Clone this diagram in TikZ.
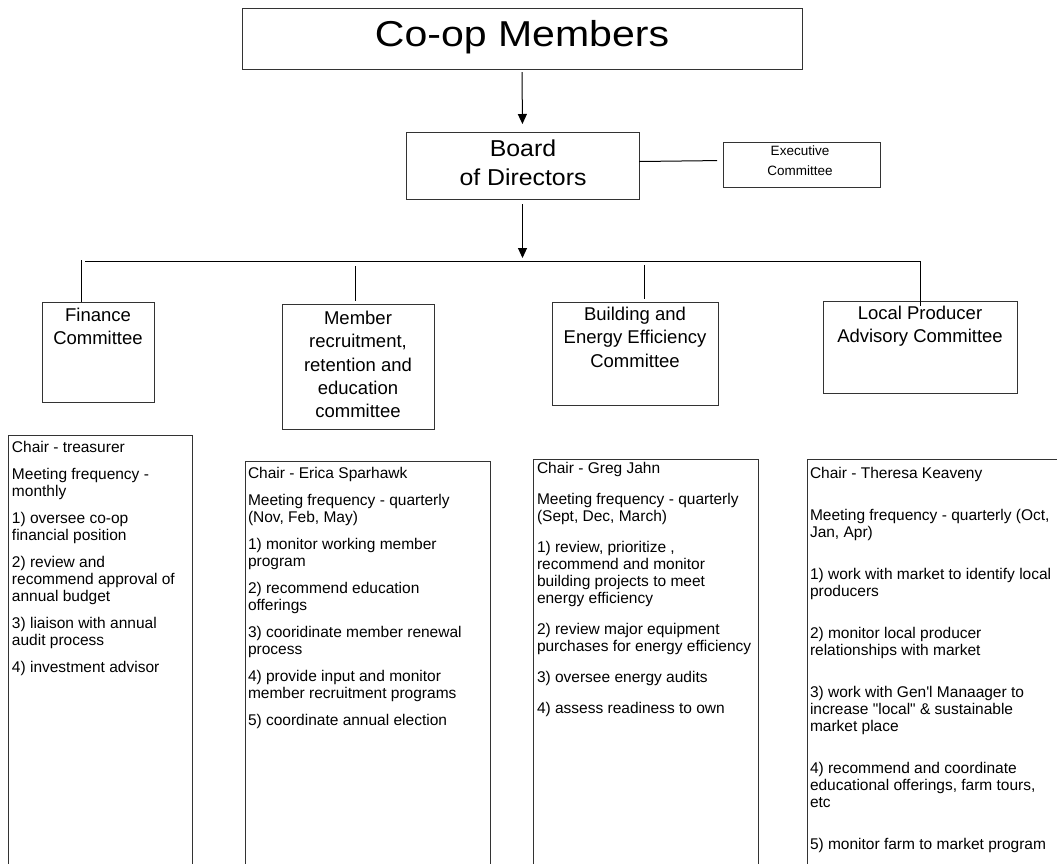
\documentclass[tikz,border=0pt]{standalone}
\usepackage{fontspec}
\setmainfont{Liberation Sans}[Ligatures=TeXOff]
\usetikzlibrary{arrows.meta}
\tikzset{
  box/.style={draw=black!80, line width=1pt, inner sep=0pt, outer sep=0pt, anchor=north west},
  conn/.style={line width=1pt, draw=black},
  arr/.style={conn, -{Triangle[width=9pt,length=10pt]}},
  txt/.style={inner sep=0pt, outer sep=0pt},
  desc/.style={txt, anchor=north west, align=left, font=\fontsize{15.5}{17}\selectfont},
  ctitle/.style={txt, anchor=north, align=center, font=\fontsize{18.5}{23.3}\selectfont},
}
\begin{document}
\begin{tikzpicture}[x=1pt,y=-1pt]
\useasboundingbox (0,0) rectangle (1057,863);
\clip (0,0) rectangle (1057,863);
\fill[white] (0,0) rectangle (1057,863);

% top boxes
\node[box, minimum width=560pt, minimum height=61pt] (coop) at (242,8) {};
\node[txt, anchor=north, font=\fontsize{36}{40}\selectfont] (coopT) at (522,20) {\scalebox{1.14}[1]{Co-op Members}};

\node[box, minimum width=233pt, minimum height=67pt] (board) at (406,132) {};
\node[txt, anchor=north, align=center, font=\fontsize{23}{29}\selectfont] (boardT) at (523,140) {\scalebox{1.08}[1]{Board}\\\scalebox{1.08}[1]{of Directors}};

\node[box, minimum width=157pt, minimum height=45pt] (exec) at (723,142) {};
\node[txt, anchor=north, align=center, font=\fontsize{13.5}{19.5}\selectfont] (execT) at (800,146) {Executive\\Committee};

% committee boxes
\node[box, minimum width=112pt, minimum height=100pt] (fin) at (42,302) {};
\node[ctitle] (finT) at (98,308) {Finance\\Committee};

\node[box, minimum width=152pt, minimum height=125pt] (mem) at (282,304) {};
\node[ctitle] (memT) at (358,311) {Member\\recruitment,\\retention and\\education\\committee};

\node[box, minimum width=166pt, minimum height=103pt] (bld) at (552,302) {};
\node[ctitle] (bldT) at (635,307) {Building and\\Energy Efficiency\\Committee};

\node[box, minimum width=194pt, minimum height=92pt] (loc) at (823,301) {};
\node[ctitle] (locT) at (920,306) {Local Producer\\Advisory Committee};

% description boxes
\node[box, minimum width=184pt, minimum height=440pt] (finD) at (8,435) {};
\node[desc] (finDT) at (12,441) {Chair - treasurer\\[10pt]
Meeting frequency -\\monthly\\[10pt]
1) oversee co-op\\financial position\\[10pt]
2) review and\\recommend approval of\\annual budget\\[10pt]
3) liaison with annual\\audit process\\[10pt]
4) investment advisor};

\node[box, minimum width=245pt, minimum height=420pt] (memD) at (245,461) {};
\node[desc] (memDT) at (248,467) {Chair - Erica Sparhawk\\[10pt]
Meeting frequency - quarterly\\(Nov, Feb, May)\\[10pt]
1) monitor working member\\program\\[10pt]
2) recommend education\\offerings\\[10pt]
3) cooridinate member renewal\\process\\[10pt]
4) provide input and monitor\\member recruitment programs\\[10pt]
5) coordinate annual election};

\node[box, minimum width=225pt, minimum height=420pt] (bldD) at (533,459) {};
\node[desc] (bldDT) at (537,462) {Chair - Greg Jahn\\[14pt]
Meeting frequency - quarterly\\(Sept, Dec, March)\\[14pt]
1) review, prioritize ,\\recommend and monitor\\building projects to meet\\energy efficiency\\[14pt]
2) review major equipment\\purchases for energy efficiency\\[14pt]
3) oversee energy audits\\[14pt]
4) assess readiness to own};

\node[box, minimum width=270pt, minimum height=420pt] (locD) at (807,459) {};
\node[desc] (locDT) at (810,467) {Chair - Theresa Keaveny\\[25pt]
Meeting frequency - quarterly (Oct,\\Jan, Apr)\\[25pt]
1) work with market to identify local\\producers\\[25pt]
2) monitor local producer\\relationships with market\\[25pt]
3) work with Gen'l Manaager to\\increase "local" \& sustainable\\market place\\[25pt]
4) recommend and coordinate\\educational offerings, farm tours,\\etc\\[25pt]
5) monitor farm to market program};

% connectors
\draw[arr, shorten <=3pt, shorten >=8pt] (coop.south) -- (board.north);
\draw[conn, shorten >=6pt] ([yshift=4pt]board.east) -- ([yshift=4pt]exec.west);

\coordinate (busL) at (85,261);
\coordinate (busR) at (920,261);
\coordinate (finTop) at (81,260);
\coordinate (memTop) at (355,266);
\coordinate (bldTop) at (644,265);

\draw[arr, shorten <=5pt, shorten >=3pt] (board.south) -- (board.south |- busL);
\draw[conn] (busL) -- (busR) -- ([yshift=-5pt]loc.north);
\draw[conn] (finTop) -- (finTop |- fin.north);
\draw[conn, shorten >=3pt] (memTop) -- (memTop |- mem.north);
\draw[conn, shorten >=3pt] (bldTop) -- (bldTop |- bld.north);
\end{tikzpicture}
\end{document}
